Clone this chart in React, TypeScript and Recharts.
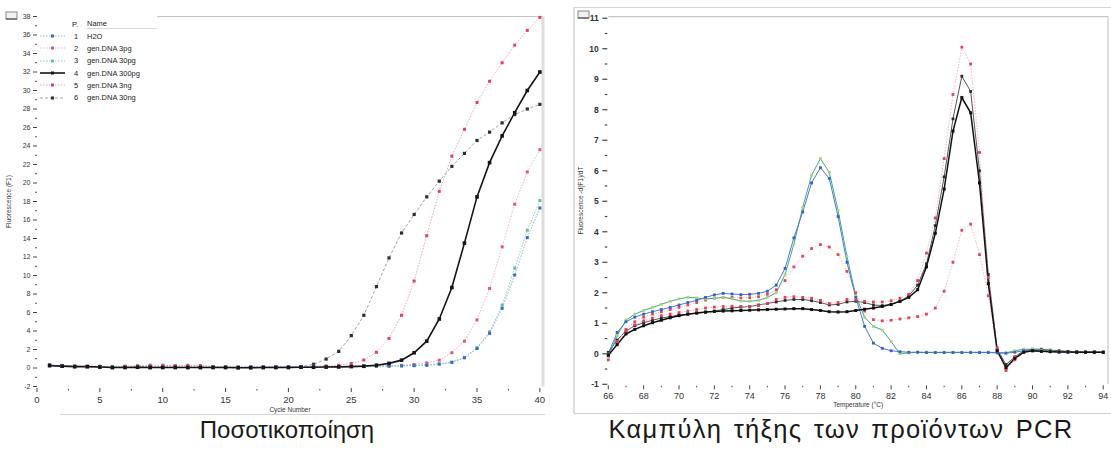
import { LineChart, Line, XAxis, YAxis, Legend, ReferenceLine } from 'recharts'

/* ---------- data ---------- */

const sampleNames = ['H2O', 'gen.DNA 3pg', 'gen.DNA 30pg', 'gen.DNA 300pg', 'gen.DNA 3ng', 'gen.DNA 30ng']

// quantification: fluorescence (F1) per cycle
const cycles = [
  1, 2, 3, 4, 5, 6, 7, 8, 9, 10, 11, 12, 13, 14, 15, 16, 17, 18, 19, 20,
  21, 22, 23, 24, 25, 26, 27, 28, 29, 30, 31, 32, 33, 34, 35, 36, 37, 38, 39, 40,
]
const ampH2O = [
  0.35, 0.2, 0.15, 0.15, 0.15, 0.1, 0.1, 0.12, 0.15, 0.1, 0.12, 0.1, 0.12, 0.1, 0.08, 0.1, 0.1, 0.12, 0.1, 0.12,
  0.15, 0.15, 0.12, 0.15, 0.18, 0.15, 0.2, 0.2, 0.22, 0.25, 0.3, 0.42, 0.6, 1.1, 2.1, 3.75, 6.45, 10.05, 14.1, 17.3,
]
const amp3pg = [
  0.3, 0.2, 0.2, 0.15, 0.15, 0.1, 0.15, 0.15, 0.2, 0.2, 0.25, 0.2, 0.25, 0.15, 0.15, 0.1, 0.1, 0.1, 0.12, 0.15,
  0.15, 0.12, 0.15, 0.15, 0.18, 0.2, 0.2, 0.22, 0.3, 0.38, 0.55, 0.85, 1.65, 2.9, 5.2, 8.6, 13.1, 17.7, 21.2, 23.6,
]
const amp30pg = [
  0.3, 0.25, 0.2, 0.15, 0.15, 0.12, 0.1, 0.1, 0.12, 0.1, 0.1, 0.08, 0.1, 0.1, 0.1, 0.08, 0.1, 0.1, 0.12, 0.12,
  0.12, 0.15, 0.15, 0.15, 0.18, 0.18, 0.2, 0.22, 0.25, 0.28, 0.32, 0.45, 0.65, 1.15, 2.2, 3.9, 6.8, 10.8, 14.9, 18.1,
]
const amp300pg = [
  0.25, 0.2, 0.15, 0.15, 0.1, 0.05, 0.05, 0.08, 0.05, 0.05, 0.05, 0.05, 0.05, 0.05, 0.05, 0.02, 0.02, 0.05, 0.05, 0.05,
  0.08, 0.08, 0.1, 0.12, 0.15, 0.2, 0.3, 0.5, 0.85, 1.65, 2.9, 5.3, 8.7, 13.5, 18.5, 22.2, 25.1, 27.6, 30.0, 32.0,
]
const amp3ng = [
  0.3, 0.25, 0.2, 0.2, 0.2, 0.15, 0.2, 0.25, 0.3, 0.3, 0.25, 0.3, 0.25, 0.15, 0.15, 0.1, 0.1, 0.1, 0.1, 0.12,
  0.15, 0.2, 0.22, 0.3, 0.5, 0.86, 1.7, 3.2, 5.7, 9.4, 14.3, 19.1, 22.9, 25.8, 28.7, 31.0, 33.0, 34.9, 36.5, 37.9,
]
const amp30ng = [
  0.3, 0.2, 0.15, 0.15, 0.12, 0.05, 0.1, 0.1, 0.05, 0.1, 0.1, 0.05, 0.05, 0.1, 0.1, 0.05, 0.1, 0.05, 0.1, 0.12,
  0.15, 0.4, 0.97, 1.8, 3.5, 5.7, 8.8, 11.9, 14.6, 16.6, 18.5, 20.2, 21.8, 23.2, 24.6, 25.5, 26.5, 27.4, 28.0, 28.5,
]

// melting curve: -d(F1)/dT per temperature step
const temps = [
  66, 66.5, 67, 67.5, 68, 68.5, 69, 69.5, 70, 70.5, 71, 71.5, 72, 72.5, 73, 73.5, 74, 74.5, 75, 75.5,
  76, 76.5, 77, 77.5, 78, 78.5, 79, 79.5, 80, 80.5, 81, 81.5, 82, 82.5, 83, 83.5, 84, 84.5, 85, 85.5,
  86, 86.5, 87, 87.5, 88, 88.5, 89, 89.5, 90, 90.5, 91, 91.5, 92, 92.5, 93, 93.5, 94,
]
const meltH2O = [
  0.0, 0.7, 1.05, 1.2, 1.3, 1.38, 1.45, 1.52, 1.6, 1.68, 1.75, 1.85, 1.93, 1.98, 1.96, 1.94, 1.95, 1.98, 2.05, 2.25,
  2.8, 3.8, 4.65, 5.6, 6.1, 5.75, 4.5, 3.0, 1.85, 0.9, 0.35, 0.18, 0.1, 0.07, 0.05, 0.05, 0.04, 0.04, 0.04, 0.04,
  0.04, 0.04, 0.04, 0.04, 0.03, 0.02, 0.05, 0.1, 0.1, 0.08, 0.07, 0.06, 0.06, 0.05, 0.05, 0.05, 0.05,
]
const melt3pg = [
  -0.2, 0.4, 0.8, 1.05, 1.2, 1.3, 1.38, 1.45, 1.52, 1.6, 1.68, 1.76, 1.82, 1.85, 1.85, 1.83, 1.84, 1.87, 1.95, 2.1,
  2.4, 2.85, 3.2, 3.45, 3.58, 3.5, 3.25, 2.7, 2.0, 1.4, 1.12, 1.08, 1.1, 1.14, 1.18, 1.22, 1.3, 1.5, 2.05, 3.0,
  4.05, 4.25, 3.25, 1.9, 0.1, -0.55, -0.1, 0.05, 0.1, 0.1, 0.08, 0.07, 0.07, 0.06, 0.06, 0.05, 0.05,
]
const melt30pg = [
  -0.1, 0.6, 1.1, 1.3, 1.42, 1.52, 1.62, 1.72, 1.8, 1.85, 1.83, 1.8, 1.82, 1.85, 1.8, 1.73, 1.72, 1.75, 1.85, 2.0,
  2.6, 3.6, 4.8, 5.85, 6.4, 5.95, 4.7, 3.2, 1.9, 1.2, 0.9, 0.78, 0.4, 0.0, 0.03, 0.05, 0.05, 0.05, 0.05, 0.05,
  0.05, 0.05, 0.05, 0.05, 0.04, 0.03, 0.1, 0.15, 0.15, 0.12, 0.1, 0.08, 0.07, 0.06, 0.06, 0.05, 0.05,
]
const melt300pg = [
  -0.05, 0.3, 0.65, 0.8, 0.92, 1.02, 1.1, 1.18, 1.25, 1.3, 1.34, 1.37, 1.39, 1.4, 1.41, 1.42, 1.43, 1.44, 1.45, 1.46,
  1.47, 1.48, 1.48, 1.45, 1.42, 1.38, 1.37, 1.38, 1.42, 1.46, 1.5, 1.55, 1.62, 1.72, 1.85, 2.1, 2.85, 3.95, 5.4, 7.3,
  8.4, 7.9, 5.6, 2.3, 0.1, -0.45, -0.15, 0.05, 0.1, 0.08, 0.07, 0.06, 0.06, 0.05, 0.05, 0.05, 0.05,
]
const melt3ng = [
  -0.1, 0.35, 0.7, 0.95, 1.08, 1.17, 1.25, 1.3, 1.35, 1.4, 1.45, 1.5, 1.53, 1.55, 1.56, 1.55, 1.55, 1.58, 1.65, 1.78,
  1.85, 1.87, 1.85, 1.82, 1.75, 1.65, 1.68, 1.78, 1.76, 1.72, 1.7, 1.7, 1.74, 1.82, 1.95, 2.4, 3.3, 4.45, 6.4, 8.5,
  10.05, 9.5, 6.6, 2.5, 0.2, -0.5, -0.2, 0.08, 0.12, 0.1, 0.08, 0.07, 0.06, 0.06, 0.05, 0.05, 0.05,
]
const melt30ng = [
  0.05, 0.45, 0.75, 0.92, 1.02, 1.1, 1.17, 1.22, 1.27, 1.3, 1.33, 1.36, 1.4, 1.45, 1.5, 1.53, 1.55, 1.6, 1.65, 1.7,
  1.75, 1.78, 1.78, 1.74, 1.68, 1.6, 1.62, 1.7, 1.72, 1.68, 1.6, 1.58, 1.62, 1.72, 1.9, 2.25, 2.95, 4.2, 5.8, 7.7,
  9.1, 8.6, 6.0, 2.6, 0.15, -0.35, -0.1, 0.1, 0.15, 0.15, 0.12, 0.1, 0.08, 0.07, 0.06, 0.06, 0.05,
]

const ampXTicks = [0, 2.5, 5, 7.5, 10, 12.5, 15, 17.5, 20, 22.5, 25, 27.5, 30, 32.5, 35, 37.5, 40]
const ampYTicks = [
  -2, -1, 0, 1, 2, 3, 4, 5, 6, 7, 8, 9, 10, 11, 12, 13, 14, 15, 16, 17, 18, 19, 20,
  21, 22, 23, 24, 25, 26, 27, 28, 29, 30, 31, 32, 33, 34, 35, 36, 37, 38,
]
const meltXTicks = [66, 67, 68, 69, 70, 71, 72, 73, 74, 75, 76, 77, 78, 79, 80, 81, 82, 83, 84, 85, 86, 87, 88, 89, 90, 91, 92, 93, 94]
const meltYTicks = [-1, -0.5, 0, 0.5, 1, 1.5, 2, 2.5, 3, 3.5, 4, 4.5, 5, 5.5, 6, 6.5, 7, 7.5, 8, 8.5, 9, 9.5, 10, 10.5, 11]

/* ---------- styles ---------- */

const FONT = '"Liberation Sans", Arial, sans-serif'
const keys = ['s1', 's2', 's3', 's4', 's5', 's6']

type SeriesStyle = { marker: string; stroke: string; width: number; dash?: string; size: number }

const ampStyle: SeriesStyle[] = [
  { marker: '#3d66c9', stroke: '#86a6e0', width: 0.9, dash: '1.5 1.5', size: 3 },
  { marker: '#e35a70', stroke: '#f1a7b3', width: 0.9, dash: '1.5 1.5', size: 3 },
  { marker: '#6cbf94', stroke: '#7cc7b0', width: 0.9, dash: '1.5 1.5', size: 3 },
  { marker: '#151515', stroke: '#151515', width: 1.6, size: 3.6 },
  { marker: '#e0415d', stroke: '#f19aaa', width: 0.9, dash: '1.5 1.5', size: 3 },
  { marker: '#2e2e2e', stroke: '#8a8a8a', width: 0.8, dash: '3 2', size: 3.2 },
]
const meltStyle: SeriesStyle[] = [
  { marker: '#3561c8', stroke: '#4d79d0', width: 1, size: 2.8 },
  { marker: '#e2455f', stroke: '#f3a3b0', width: 0.8, dash: '1.5 1.5', size: 2.8 },
  { marker: '#a9d46f', stroke: '#3ea88f', width: 1, size: 2.8 },
  { marker: '#111111', stroke: '#111111', width: 1.5, size: 3 },
  { marker: '#e0405a', stroke: '#f0a0ad', width: 0.8, dash: '1.5 1.5', size: 2.8 },
  { marker: '#2a2a2a', stroke: '#555555', width: 1, size: 2.8 },
]
const drawOrder = [5, 1, 4, 2, 0, 3]

const ampRows = cycles.map((c, i) => ({
  cycle: c, s1: ampH2O[i], s2: amp3pg[i], s3: amp30pg[i], s4: amp300pg[i], s5: amp3ng[i], s6: amp30ng[i],
}))
const meltRows = temps.map((t, i) => ({
  temp: t, s1: meltH2O[i], s2: melt3pg[i], s3: melt30pg[i], s4: melt300pg[i], s5: melt3ng[i], s6: melt30ng[i],
}))

/* ---------- helpers ---------- */

function squareDot(color: string, size: number) {
  // eslint-disable-next-line @typescript-eslint/no-explicit-any
  return (props: any) => {
    const { cx, cy, index } = props
    if (cx == null || cy == null) return <g key={`d${index}`} />
    return <rect key={`d${index}`} x={cx - size / 2} y={cy - size / 2} width={size} height={size} fill={color} />
  }
}

// eslint-disable-next-line @typescript-eslint/no-explicit-any
function AmpYTick({ x, y, payload }: any) {
  const v = payload.value
  const major = v % 2 === 0
  const ax = x + 5
  return (
    <g>
      <line x1={ax - (major ? 4 : 1.8)} x2={ax} y1={y} y2={y} stroke="#444" strokeWidth={1} />
      {major && (
        <text x={x - 1.5} y={y} dy="0.35em" textAnchor="end" fontSize={7} fill="#333" fontFamily={FONT}>{v}</text>
      )}
    </g>
  )
}

// eslint-disable-next-line @typescript-eslint/no-explicit-any
function AmpXTick({ x, y, payload }: any) {
  const v = payload.value
  const major = v % 5 === 0
  return (
    <g>
      <line x1={x} x2={x} y1={y + (major ? 1.5 : 2.5)} y2={y + (major ? 5.5 : 4)} stroke="#444" strokeWidth={1} />
      {major && (
        <text x={x} y={y + 13.5} dy="0.35em" textAnchor="middle" fontSize={9.5} fill="#333" fontFamily={FONT}>{v}</text>
      )}
    </g>
  )
}

// eslint-disable-next-line @typescript-eslint/no-explicit-any
function MeltYTick({ x, y, payload }: any) {
  const v = payload.value
  const major = Number.isInteger(v)
  const ax = x + 9
  return (
    <g>
      <line x1={ax - (major ? 6 : 3.5)} x2={ax - 1} y1={y} y2={y} stroke="#444" strokeWidth={1.2} />
      {major && (
        <text x={x - 0.5} y={y} dy="0.35em" textAnchor="end" fontSize={8.5} fontWeight="bold" fill="#333" fontFamily={FONT}>{v}</text>
      )}
    </g>
  )
}

// eslint-disable-next-line @typescript-eslint/no-explicit-any
function MeltXTick({ x, y, payload }: any) {
  const v = payload.value
  const major = v % 2 === 0
  return (
    <g>
      <line x1={x} x2={x} y1={y + (major ? 1 : 1.5)} y2={y + (major ? 5 : 3)} stroke="#444" strokeWidth={1} />
      {major && (
        <text x={x} y={y + 12} dy="0.35em" textAnchor="middle" fontSize={9} fill="#333" fontFamily={FONT}>{v}</text>
      )}
    </g>
  )
}

function AmpLegend() {
  return (
    <div style={{ background: '#fff', fontFamily: FONT, fontSize: 7.5, color: '#222', paddingRight: 10 }}>
      <div style={{ display: 'flex', alignItems: 'center', height: 12 }}>
        <span style={{ width: 34 }} />
        <span style={{ width: 15 }}>P.</span>
        <span style={{ width: 70, borderBottom: '1px solid #d8d8d8', lineHeight: '9px' }}>Name</span>
      </div>
      {sampleNames.map((n, i) => {
        const s = ampStyle[i]
        return (
          <div key={n} style={{ display: 'flex', alignItems: 'center', height: 12.3 }}>
            <svg width={34} height={8}>
              <line x1={2} x2={27} y1={4} y2={4} stroke={s.stroke} strokeWidth={s.width} strokeDasharray={s.dash} />
              <rect x={13} y={2.5} width={3} height={3} fill={s.marker} />
            </svg>
            <span style={{ width: 13, paddingLeft: 2 }}>{i + 1}</span>
            <span>{n}</span>
          </div>
        )
      })}
    </div>
  )
}

function CornerIcon({ left, top }: { left: number; top: number }) {
  return (
    <svg style={{ position: 'absolute', left, top }} width={14} height={10}>
      <rect x={1} y={1} width={11} height={7} fill="#f2f2f2" stroke="#888" strokeWidth={1} />
      <line x1={1} x2={12} y1={8} y2={8} stroke="#555" strokeWidth={1.2} />
    </svg>
  )
}

/* ---------- component ---------- */

export default function App() {
  return (
    <div style={{ position: 'absolute', left: 0, top: 0, width: 1111, height: 453, background: '#fff', overflow: 'hidden' }}>
      {/* left: quantification */}
      <div style={{ position: 'absolute', left: 0, top: 0 }}>
        <LineChart width={560} height={420} data={ampRows} margin={{ top: 16.5, right: 17, bottom: 8.5, left: 0 }}>
          <XAxis
            type="number"
            dataKey="cycle"
            domain={[0, 40.25]}
            ticks={ampXTicks}
            interval={0}
            tick={<AmpXTick />}
            tickSize={0}
            tickMargin={0}
            tickLine={false}
            axisLine={false}
            height={25}
            label={{ value: 'Cycle Number', position: 'insideBottom', offset: 0, fontSize: 6.5, fill: '#333', fontFamily: FONT }}
          />
          <YAxis
            type="number"
            domain={[-2, 38]}
            ticks={ampYTicks}
            interval={0}
            tick={<AmpYTick />}
            tickSize={0}
            tickMargin={5}
            tickLine={false}
            axisLine={false}
            width={37}
            label={{
              value: 'Fluorescence (F1)', angle: -90, position: 'insideLeft', offset: 9,
              fontSize: 6.5, fill: '#333', fontFamily: FONT, style: { textAnchor: 'middle' },
            }}
          />
          <ReferenceLine segment={[{ x: 9.55, y: 38 }, { x: 40.25, y: 38 }]} stroke="#c4c4c4" strokeWidth={1} />
          <ReferenceLine x={40.25} stroke="#dedede" strokeWidth={3} />
          {drawOrder.map((i) => {
            const s = ampStyle[i]
            return (
              <Line
                key={keys[i]}
                type="linear"
                dataKey={keys[i]}
                name={sampleNames[i]}
                stroke={s.stroke}
                strokeWidth={s.width}
                strokeDasharray={s.dash}
                dot={squareDot(s.marker, s.size)}
                activeDot={false}
                isAnimationActive={false}
              />
            )
          })}
          <Legend
            layout="vertical"
            align="center"
            verticalAlign="middle"
            content={<AmpLegend />}
            wrapperStyle={{ left: 38, top: 18, width: 'auto' }}
          />
        </LineChart>
      </div>

      {/* right: melting curve */}
      <div style={{ position: 'absolute', left: 560, top: 0 }}>
        <LineChart width={551} height={420} data={meltRows} margin={{ top: 16.7, right: 3, bottom: 10.7, left: 0 }}>
          <XAxis
            type="number"
            dataKey="temp"
            domain={[66, 94.27]}
            ticks={meltXTicks}
            interval={0}
            tick={<MeltXTick />}
            tickSize={0}
            tickMargin={0}
            tickLine={false}
            axisLine={false}
            height={25}
            label={{ value: 'Temperature (°C)', position: 'insideBottom', offset: 2, fontSize: 6.5, fill: '#333', fontFamily: FONT }}
          />
          <YAxis
            type="number"
            domain={[-1, 11.05]}
            ticks={meltYTicks}
            interval={0}
            tick={<MeltYTick />}
            tickSize={0}
            tickMargin={9}
            tickLine={false}
            axisLine={false}
            width={48.3}
            label={{
              value: 'Fluorescence -d(F1)/dT', angle: -90, position: 'insideLeft', offset: 21,
              fontSize: 6.5, fill: '#333', fontFamily: FONT, style: { textAnchor: 'middle' },
            }}
          />
          <ReferenceLine y={11.05} stroke="#c8c8c8" strokeWidth={1.2} />
          <ReferenceLine x={94.27} stroke="#d4d4d4" strokeWidth={1.5} />
          {drawOrder.map((i) => {
            const s = meltStyle[i]
            return (
              <Line
                key={keys[i]}
                type="linear"
                dataKey={keys[i]}
                name={sampleNames[i]}
                stroke={s.stroke}
                strokeWidth={s.width}
                strokeDasharray={s.dash}
                dot={squareDot(s.marker, s.size)}
                activeDot={false}
                isAnimationActive={false}
              />
            )
          })}
        </LineChart>
      </div>

      {/* panel frames */}
      <div style={{ position: 'absolute', left: 574, top: 7, width: 537, height: 1, background: '#d6d6d6' }} />
      <div style={{ position: 'absolute', left: 573, top: 7, width: 2, height: 406, background: '#dcdcdc' }} />
      <div style={{ position: 'absolute', left: 574, top: 413, width: 537, height: 1, background: '#d0d0d0' }} />
      <div style={{ position: 'absolute', left: 60, top: 414, width: 485, height: 1, background: '#d6d6d6' }} />
      <CornerIcon left={5} top={11} />
      <CornerIcon left={577} top={10} />

      {/* captions */}
      <div style={{ position: 'absolute', left: 87, top: 416, width: 400, textAlign: 'center', fontFamily: FONT, fontSize: 24, lineHeight: '28px', color: '#1a1a1a' }}>
        Ποσοτικοποίηση
      </div>
      <div style={{ position: 'absolute', left: 541, top: 415, width: 600, textAlign: 'center', fontFamily: FONT, fontSize: 25.5, lineHeight: '28px', color: '#1a1a1a', whiteSpace: 'nowrap', letterSpacing: 1.3, wordSpacing: 3 }}>
        Καμπύλη τήξης των προϊόντων PCR
      </div>
    </div>
  )
}
